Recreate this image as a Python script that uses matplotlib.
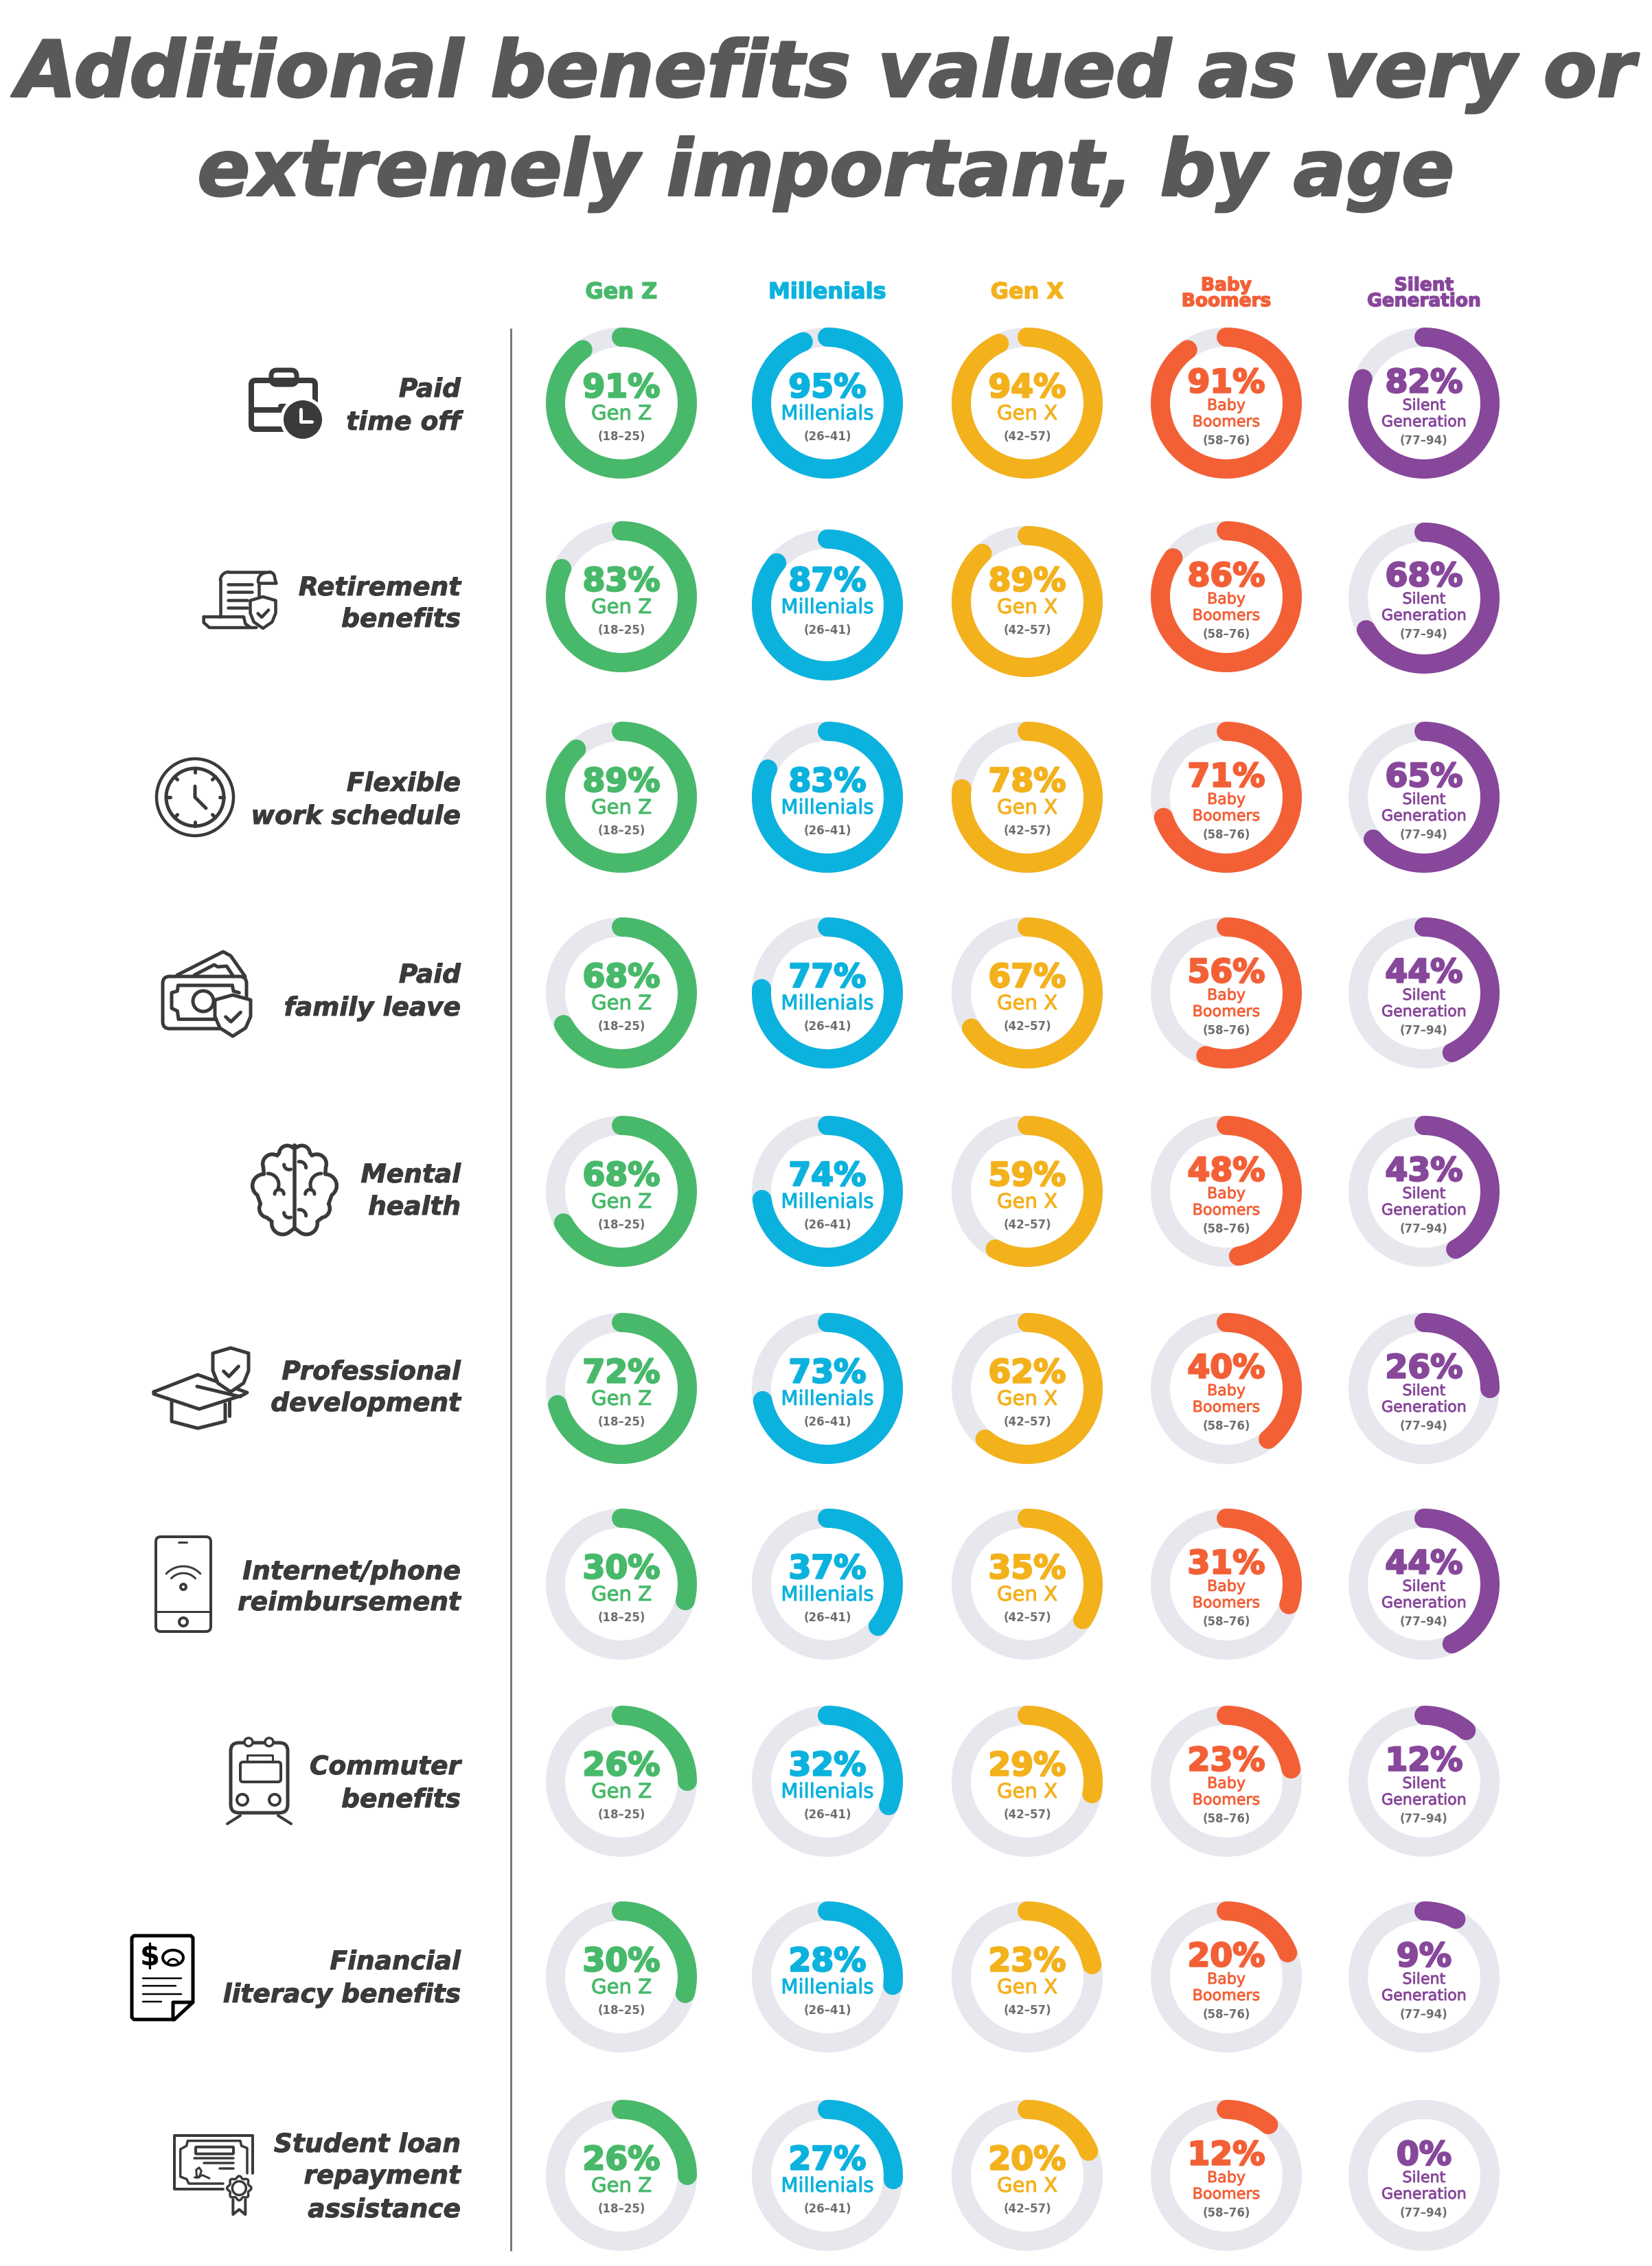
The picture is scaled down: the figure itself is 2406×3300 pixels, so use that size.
import numpy as np
import matplotlib
matplotlib.use('Agg')
import matplotlib.pyplot as plt
import matplotlib.patheffects as pe
from matplotlib.patches import Circle, Ellipse, FancyBboxPatch, Polygon

# data
benefits = [
    ["Paid", "time off"],
    ["Retirement", "benefits"],
    ["Flexible", "work schedule"],
    ["Paid", "family leave"],
    ["Mental", "health"],
    ["Professional", "development"],
    ["Internet/phone", "reimbursement"],
    ["Commuter", "benefits"],
    ["Financial", "literacy benefits"],
    ["Student loan", "repayment", "assistance"],
]
generations = [["Gen Z"], ["Millenials"], ["Gen X"], ["Baby", "Boomers"], ["Silent", "Generation"]]
age_ranges = ["(18–25)", "(26–41)", "(42–57)", "(58–76)", "(77–94)"]
gen_z = [91, 83, 89, 68, 68, 72, 30, 26, 30, 26]
millenials = [95, 87, 83, 77, 74, 73, 37, 32, 28, 27]
gen_x = [94, 89, 78, 67, 59, 62, 35, 29, 23, 20]
baby_boomers = [91, 86, 71, 56, 48, 40, 31, 23, 20, 12]
silent = [82, 68, 65, 44, 43, 26, 44, 12, 9, 0]
all_values = [gen_z, millenials, gen_x, baby_boomers, silent]

# layout, in pixels of the final image
COLORS = ['#48b96a', '#0cb2de', '#f3b11c', '#f36036', '#87479a']
TRACK = '#e7e7ee'
ICON = '#3a3a3a'
TITLE = '#58595b'
col_x = [905, 1205, 1496, 1786, 2074]
row_y = [587, 869, 1161, 1446, 1735, 2022, 2307, 2594, 2879, 3168]
# the rings of the second row sit a little off the row
row2_shift = [0, 12, 7, 0, 2]
label_y = [[568, 616], [857, 903], [1142, 1190], [1421, 1469], [1712, 1759],
           [1999, 2045], [2290, 2335], [2574, 2622], [2858, 2906], [3124, 3170, 3219]]
RADIUS = 96
RING = 28
PX = 0.72  # one pixel in points at dpi 100

fig = plt.figure(figsize=(24.06, 33), dpi=100, facecolor='white')
ax = fig.add_axes([0, 0, 1, 1])
ax.set_xlim(0, 2406)
ax.set_ylim(3300, 0)
ax.axis('off')


def txt(x, y, s, size, color, ha='center', style='normal', weight='bold', stroke=0):
    t = ax.text(x, y, s, fontsize=size, color=color, ha=ha, va='center', style=style,
                weight=weight, family='DejaVu Sans', zorder=9)
    if stroke:
        t.set_path_effects([pe.withStroke(linewidth=stroke * PX, foreground=color)])


def line(xs, ys, lw=5, color=ICON, zorder=5):
    ax.plot(xs, ys, color=color, lw=lw * PX, solid_capstyle='round', solid_joinstyle='round', zorder=zorder)


def box(x0, y0, x1, y1, r=6, lw=5, fc='none', color=ICON, zorder=5):
    ax.add_patch(FancyBboxPatch((x0 + r, y0 + r), x1 - x0 - 2 * r, y1 - y0 - 2 * r,
                                boxstyle='round,pad=%f,rounding_size=%f' % (r, r),
                                fc=fc, ec=color, lw=lw * PX, zorder=zorder))


def circ(x, y, r, lw=5, fc='none', color=ICON, zorder=5):
    ax.add_patch(Circle((x, y), r, fc=fc, ec=color, lw=lw * PX, zorder=zorder))


def bump(cx, cy, r, a0, a1):
    a = np.radians(np.linspace(a0, a1, 20))
    return cx + r * np.cos(a), cy - r * np.sin(a)


def crop_line(ox, oy, pts, lw=5, color=ICON, zorder=5):
    # points measured on a 3x crop whose corner is at ox, oy
    p = np.array(pts, dtype=float)
    line(ox + p[:, 0] / 3, oy + p[:, 1] / 3, lw=lw, color=color, zorder=zorder)


def shield(cx, top, w, h, lw=5):
    xs = [cx, cx + w / 2, cx + w / 2, cx + w * 0.36, cx, cx - w * 0.36, cx - w / 2, cx - w / 2, cx]
    ys = [top, top + h * 0.12, top + h * 0.52, top + h * 0.8, top + h, top + h * 0.8, top + h * 0.52, top + h * 0.12, top]
    ax.add_patch(Polygon(np.column_stack([xs, ys]), closed=True, fc='white', ec=ICON, lw=lw * PX,
                         joinstyle='round', zorder=6))
    line([cx - w * 0.2, cx - w * 0.05, cx + w * 0.22], [top + h * 0.53, top + h * 0.65, top + h * 0.42], lw=lw, zorder=7)


def draw_briefcase():
    box(395, 539, 432, 560, r=8, lw=7)
    box(366, 554, 459, 625, r=6, lw=8)
    line([366, 412], [597, 597], lw=8)
    line([408, 416], [591, 591], lw=7)
    circ(441, 611, 33, lw=0, fc='white', color='white', zorder=6)
    circ(441, 611, 28, lw=0, fc=ICON, zorder=7)
    line([438, 438, 454], [596, 614, 614], lw=5, color='white', zorder=8)


def draw_scroll():
    line([321, 321], [898, 845], lw=4.5)
    xs, ys = bump(333, 845, 12, 180, 90)
    line(xs, ys, lw=4.5)
    line([333, 393], [833, 833], lw=4.5)
    xs, ys = bump(392, 841, 8, 90, 0)
    line(np.r_[xs, 402], np.r_[ys, 849], lw=4.5)
    line([402, 377, 377], [849, 849, 885], lw=4.5)
    xs, ys = bump(388, 846, 12, 90, 190)
    line(xs, ys, lw=4.5)
    for y, x1 in zip([851, 862, 874, 885], [367, 367, 360, 360]):
        line([332, x1], [y, y], lw=4.5)
    crop_line(280, 810, [(50, 265), (225, 265), (232, 295), (255, 312), (280, 312)], lw=4.5)
    crop_line(280, 810, [(50, 265), (50, 290), (75, 312), (255, 312)], lw=4.5)
    shield(383, 869, 37, 46, lw=4.5)


def draw_clock():
    circ(284, 1161, 56, lw=4.5)
    circ(284, 1161, 42, lw=5)
    for a in range(0, 360, 45):
        c, s = np.cos(np.radians(a)), np.sin(np.radians(a))
        line([284 + 36 * c, 284 + 42 * c], [1161 + 36 * s, 1161 + 42 * s], lw=5)
    line([284, 284, 300], [1145, 1161, 1177], lw=5)


def draw_money():
    line([258, 325, 336, 357], [1420, 1386, 1392, 1422], lw=5)
    line([283, 312, 317, 330, 340], [1420, 1405, 1408, 1407, 1422], lw=5)
    box(237, 1422, 359, 1498, r=10, lw=5)
    crop_line(230, 1375, [(325, 180), (88, 180), (85, 205), (60, 212), (60, 280), (85, 292), (90, 328), (270, 328)], lw=5)
    crop_line(230, 1375, [(325, 180), (330, 205), (355, 212)], lw=5)
    circ(296, 1458, 15, lw=5, fc='white')
    shield(339, 1449, 52, 60, lw=5)


def draw_brain():
    ox, oy = 355, 1660
    lobes = [(190, 60, 35, 50, 175), (125, 105, 42, 60, 200), (88, 200, 50, 90, 235),
             (108, 300, 40, 150, 260), (170, 365, 48, 170, 310)]
    xs = np.concatenate([bump(ox + c / 3, oy + d / 3, r / 3, a, b)[0] for c, d, r, a, b in lobes])
    ys = np.concatenate([bump(ox + c / 3, oy + d / 3, r / 3, a, b)[1] for c, d, r, a, b in lobes])
    mid = ox + 222 / 3
    xs = np.r_[mid, xs, mid]
    ys = np.r_[oy + 25 / 3, ys, oy + 385 / 3]
    line(xs, ys, lw=5.5)
    line(2 * mid - xs, ys, lw=5.5)
    line([mid, mid], [1668, 1790], lw=5.5)
    for sign in [-1, 1]:
        bx, by = bump(105, 195, 48, 90, -20)
        line(mid + sign * (mid - (ox + bx / 3)), oy + by / 3, lw=5)
        bx, by = bump(155, 237, 20, 180, 0)
        line(mid + sign * (mid - (ox + bx / 3)), oy + by / 3, lw=5)
    # the small hooks hang off the middle line
    for dy in [0, 210]:
        bx, by = bump(198, 108 + dy, 22, 180, 290)
        line(ox + bx / 3, oy + by / 3, lw=5)
        bx, by = bump(245, 122 + dy, 27, 100, 0)
        line(ox + bx / 3, oy + by / 3, lw=5)


def draw_cap():
    line([224, 288, 360, 353, 290, 224, 224], [2027, 2002, 2028, 2032, 2052, 2030, 2027], lw=5)
    line([250, 250, 288, 328, 328], [2040, 2070, 2080, 2070, 2045], lw=5)
    line([287, 350], [2019, 2034], lw=5)
    line([334, 334], [2040, 2062], lw=5)
    shield(336, 1963, 52, 64, lw=5)


def draw_phone():
    box(227, 2238, 307, 2376, r=7, lw=4)
    line([227, 307], [2347, 2347], lw=3)
    line([260, 272], [2246, 2246], lw=3)
    circ(267, 2362, 6, lw=4)
    circ(267, 2311, 4, lw=4)
    for r in [24, 34]:
        xs, ys = bump(267, 2315, r, 43, 137)
        line(xs, ys, lw=3)


def draw_train():
    box(336, 2538, 419, 2640, r=12, lw=5)
    circ(362, 2537, 6, lw=3.5, fc='white')
    circ(392, 2537, 6, lw=3.5, fc='white')
    box(350, 2566, 409, 2595, r=4, lw=4)
    line([360, 360, 397, 397], [2566, 2556, 2556, 2566], lw=3)
    circ(353, 2621, 8, lw=4)
    circ(400, 2621, 8, lw=4)
    line([331, 350], [2656, 2644], lw=4)
    line([424, 405], [2656, 2644], lw=4)


def draw_financial():
    line([254, 195, 192, 192, 195, 278, 281, 281], [2941, 2941, 2938, 2822, 2819, 2819, 2822, 2915], lw=5, color='black')
    line([252, 252, 281, 254], [2941, 2916, 2916, 2941], lw=5, color='black')
    txt(218, 2850, '$', 30, 'black', weight='bold')
    ax.add_patch(Ellipse((252, 2851), 30, 22, fc='none', ec='black', lw=4 * PX, zorder=5))
    xs, ys = bump(252, 2861, 8, 20, 160)
    line(xs, ys, lw=3, color='black')
    for y, x1 in zip([2881, 2892, 2904, 2915], [264, 256, 264, 235]):
        line([208, x1], [y, y], lw=2.5, color='black')


def draw_certificate():
    ox, oy = 240, 3095
    crop_line(ox, oy, [(255, 280), (42, 280), (42, 45), (385, 45), (385, 210)], lw=4)
    crop_line(ox, oy, [(255, 255), (105, 255), (95, 235), (68, 225), (68, 105), (95, 90), (100, 68), (330, 68),
                       (335, 90), (360, 100), (360, 210)], lw=3.5)
    box(ox + 135 / 3, oy + 95 / 3, ox + 300 / 3, oy + 125 / 3, r=1, lw=4)
    crop_line(ox, oy, [(130, 145), (300, 145)], lw=3.5)
    crop_line(ox, oy, [(170, 165), (300, 165)], lw=3.5)
    crop_line(ox, oy, [(240, 188), (300, 188)], lw=3.5)
    crop_line(ox, oy, [(130, 228), (150, 228), (160, 200), (150, 185), (137, 195), (140, 228), (165, 218), (195, 232)], lw=3)
    a = np.linspace(0, 2 * np.pi, 240)
    r = (48 + 5 * np.cos(8 * a)) / 3
    rx, ry = ox + 325 / 3 + r * np.cos(a), oy + 275 / 3 + r * np.sin(a)
    ax.add_patch(Polygon(np.column_stack([rx, ry]), closed=True, fc='white', ec=ICON, lw=3.5 * PX, zorder=6))
    circ(ox + 325 / 3, oy + 275 / 3, 10, lw=3.5, fc='white', zorder=7)
    crop_line(ox, oy, [(298, 325), (298, 390), (325, 368), (352, 390), (352, 325)], lw=4, zorder=6)


# title
txt(1203, 110, "Additional benefits valued as very or", 81.5, TITLE, style='oblique', stroke=3)
txt(1203, 254, "extremely important, by age", 81.5, TITLE, style='oblique', stroke=3)

# column heads
for x, name, color in zip(col_x, generations, COLORS):
    if len(name) == 1:
        txt(x, 426, name[0], 23, color, stroke=1.5)
    else:
        txt(x, 416, name[0], 19, color, stroke=1.5)
        txt(x, 439, name[1], 19, color, stroke=1.5)

ax.plot([744, 744], [478, 3278], color='#77777d', lw=3 * PX, zorder=1, solid_capstyle='butt')

# row labels and icons
for lines, ys in zip(benefits, label_y):
    for s, y in zip(lines, ys):
        txt(671, y, s, 27, ICON, ha='right', style='oblique', stroke=1)

for draw in [draw_briefcase, draw_scroll, draw_clock, draw_money, draw_brain, draw_cap,
             draw_phone, draw_train, draw_financial, draw_certificate]:
    draw()

# donuts
for j, (x, values, name, age, color) in enumerate(zip(col_x, all_values, generations, age_ranges, COLORS)):
    for i, (y, value) in enumerate(zip(row_y, values)):
        cy = y + (row2_shift[j] if i == 1 else 0)
        ax.add_patch(Circle((x, cy), RADIUS, fc='none', ec=TRACK, lw=RING * PX, zorder=2))
        if value > 0:
            # the round end eats a little of the arc in the original
            theta = np.radians(np.linspace(0, value * 3.6 - 3.5, 200))
            ax.plot(x + RADIUS * np.sin(theta), cy - RADIUS * np.cos(theta), color=color, lw=RING * PX,
                    solid_capstyle='round', zorder=3)
        if len(name) == 1:
            txt(x, y - 21, '%d%%' % value, 34, color, stroke=2.5)
            txt(x, y + 16, name[0], 21, color, weight='normal', stroke=1)
            txt(x, y + 49, age, 12, '#6d6e71')
        else:
            txt(x, y - 28, '%d%%' % value, 34, color, stroke=2.5)
            txt(x, y + 4, name[0], 16, color, weight='normal', stroke=0.8)
            txt(x, y + 28, name[1], 16, color, weight='normal', stroke=0.8)
            txt(x, y + 55, age, 12, '#6d6e71')

fig.savefig('out.png', dpi=100, facecolor='white')
